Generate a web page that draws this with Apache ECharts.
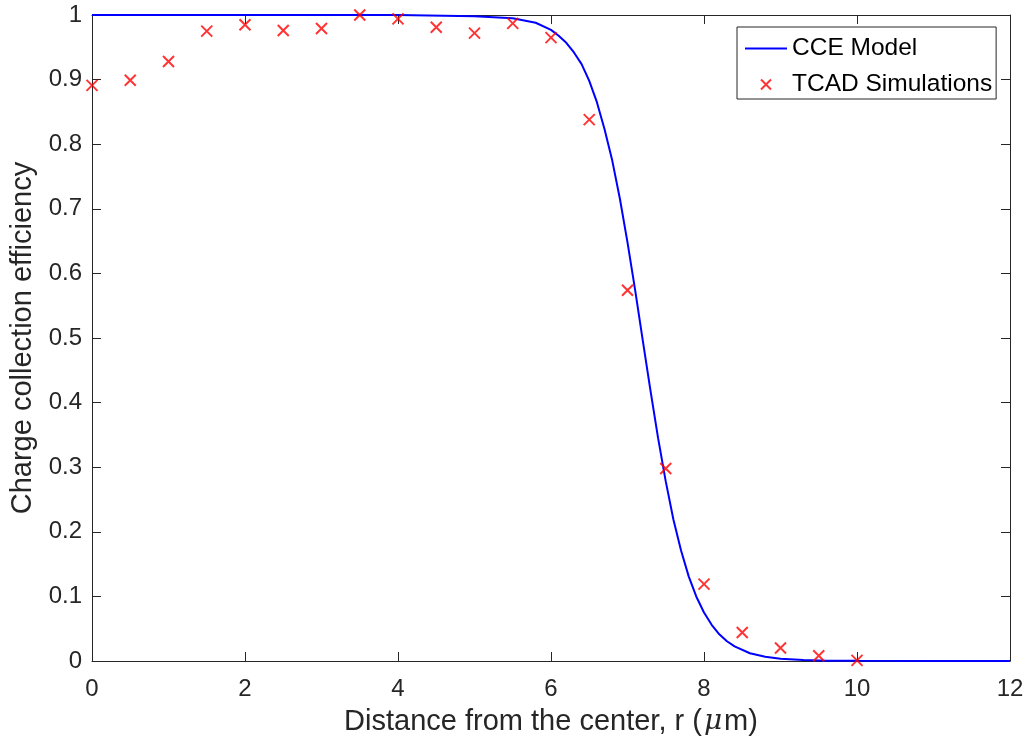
<!DOCTYPE html>
<html>
<head>
<meta charset="utf-8">
<script src="https://cdn.jsdelivr.net/npm/echarts@6/dist/echarts.min.js"></script>
<style>
  html, body { margin: 0; padding: 0; background: #fff; }
  #chart { width: 1029px; height: 744px; }
</style>
</head>
<body>
<div id="chart"></div>
<script>
// CCE model curve, sampled along r (µm)
const modelR = [0, 1, 2, 3, 4, 5, 5.5, 5.8, 6.0, 6.1, 6.2, 6.3, 6.4, 6.5, 6.6, 6.7, 6.8, 6.9, 7.0, 7.1, 7.2, 7.3, 7.4, 7.5, 7.6, 7.7, 7.8, 7.9, 8.0, 8.1, 8.2, 8.3, 8.4, 8.6, 8.8, 9.0, 9.3, 9.6, 10, 11, 12];
const modelCCE = [1, 1, 1, 1, 1, 0.998, 0.995, 0.988, 0.977, 0.968, 0.957, 0.942, 0.924, 0.898, 0.865, 0.823, 0.775, 0.716, 0.648, 0.574, 0.496, 0.419, 0.345, 0.278, 0.219, 0.171, 0.131, 0.0995, 0.075, 0.056, 0.0414, 0.0306, 0.0226, 0.012, 0.0067, 0.0035, 0.0014, 0.0005, 0.0002, 0, 0];

// TCAD simulation results
const tcadR = [0, 0.5, 1, 1.5, 2, 2.5, 3, 3.5, 4, 4.5, 5, 5.5, 6, 6.5, 7, 7.5, 8, 8.5, 9, 9.5, 10];
const tcadCCE = [0.891, 0.899, 0.928, 0.975, 0.985, 0.976, 0.979, 1.0, 0.994, 0.981, 0.972, 0.987, 0.965, 0.838, 0.574, 0.298, 0.119, 0.044, 0.020, 0.008, 0.001];

const xTicks = [0, 2, 4, 6, 8, 10, 12];
const yTicks = [0, 0.1, 0.2, 0.3, 0.4, 0.5, 0.6, 0.7, 0.8, 0.9, 1];

const axisColor = '#262626';
const font = 'Liberation Sans, Arial, Helvetica, sans-serif';
const crossPath = 'path://M0,0 L10,10 M10,0 L0,10';
const lineIcon = 'path://M0,0 L42,0 L42,2 L0,2 Z';

const chart = echarts.init(document.getElementById('chart'), null, { renderer: 'canvas' });

const baseAxis = {
  axisLine: { show: true, onZero: false, lineStyle: { color: axisColor, width: 1 } },
  axisTick: { show: true, inside: true, length: 9, lineStyle: { color: axisColor } },
  splitLine: { show: false }
};

chart.setOption({
  animation: false,
  backgroundColor: '#ffffff',
  grid: { left: 92, right: 19, top: 15, bottom: 83, containLabel: false },
  legend: {
    left: 737, top: 27,
    orient: 'vertical',
    backgroundColor: '#ffffff',
    borderColor: axisColor,
    borderWidth: 1,
    padding: [9, 4, 2, 8],
    itemGap: 11,
    itemWidth: 42,
    itemHeight: 10,
    textStyle: { fontFamily: font, fontSize: 24.5, lineHeight: 24, color: '#000' },
    data: [
      { name: 'CCE Model', icon: lineIcon, itemStyle: { color: '#0000ff' } },
      { name: 'TCAD Simulations', icon: crossPath }
    ]
  },
  xAxis: [
    Object.assign({}, baseAxis, {
      type: 'value', min: 0, max: 12, interval: 2, position: 'bottom',
      axisLabel: { color: axisColor, fontFamily: font, fontSize: 24, margin: 16,
        formatter: v => xTicks.includes(v) ? String(v) : '' },
      name: 'Distance from the center, r ({mu|\u03BC}m)',
      nameLocation: 'middle', nameGap: 46,
      nameTextStyle: {
        color: axisColor, fontFamily: font, fontSize: 29,
        rich: { mu: { fontFamily: 'DejaVu Serif, serif', fontStyle: 'italic', fontSize: 28, color: axisColor, padding: [0, 2, 0, 2] } }
      }
    }),
    Object.assign({}, baseAxis, {
      type: 'value', min: 0, max: 12, interval: 2, position: 'top',
      axisLabel: { show: false }
    })
  ],
  yAxis: [
    Object.assign({}, baseAxis, {
      type: 'value', min: 0, max: 1, interval: 0.1, position: 'left',
      axisLabel: { color: axisColor, fontFamily: font, fontSize: 24, margin: 10,
        formatter: v => {
          const t = yTicks.find(k => Math.abs(k - v) < 1e-9);
          return t === undefined ? '' : String(t);
        } },
      name: 'Charge collection efficiency',
      nameLocation: 'middle', nameGap: 50,
      nameTextStyle: { color: axisColor, fontFamily: font, fontSize: 29 }
    }),
    Object.assign({}, baseAxis, {
      type: 'value', min: 0, max: 1, interval: 0.1, position: 'right',
      axisLabel: { show: false }
    })
  ],
  series: [
    {
      name: 'CCE Model',
      type: 'line',
      xAxisIndex: 0, yAxisIndex: 0,
      data: modelR.map((r, i) => [r, modelCCE[i]]),
      showSymbol: false,
      symbol: 'none',
      smooth: false,
      lineStyle: { color: '#0000ff', width: 2 },
      itemStyle: { color: '#0000ff' },
      z: 2
    },
    {
      name: 'TCAD Simulations',
      type: 'scatter',
      xAxisIndex: 0, yAxisIndex: 0,
      data: tcadR.map((r, i) => [r, tcadCCE[i]]),
      symbol: crossPath,
      symbolSize: 11,
      itemStyle: { color: 'rgba(0,0,0,0)', borderColor: '#ff0000', borderWidth: 2 },
      z: 3
    }
  ]
});
</script>
</body>
</html>
